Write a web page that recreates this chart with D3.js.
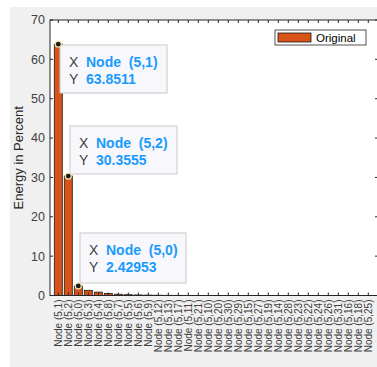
<!DOCTYPE html>
<html>
<head>
<meta charset="utf-8">
<script src="https://cdn.jsdelivr.net/npm/d3@7"></script>
<style>
  html, body { margin: 0; padding: 0; background: #fff; }
  svg { display: block; font-family: "Liberation Sans", Arial, sans-serif; }
</style>
</head>
<body>
<div id="chart"></div>
<script>
// bar categories, already sorted by energy
const nodes = [1, 2, 0, 3, 4, 8, 7, 5, 6, 9, 12, 13, 17, 11, 21, 10, 20, 30, 29, 15, 27, 19,
  14, 28, 23, 22, 24, 26, 31, 16, 18, 25]
const categories = nodes.map(n => "Node (5," + n + ")")
const energy = [63.8511, 30.3555, 2.42953, 1.32, 0.86, 0.5, 0.32, 0.2, 0.14, 0.1, 0.07, 0.05,
  0.04, 0.03, 0.03, 0.02, 0.02, 0.015, 0.012, 0.01, 0.008, 0.007, 0.006, 0.005, 0.004, 0.004,
  0.003, 0.003, 0.002, 0.002, 0.001, 0.001]
const yTicks = [0, 10, 20, 30, 40, 50, 60, 70]
// datatips: index of bar + text
const tips = [
  {i: 0, label: "Node  (5,1)", value: "63.8511"},
  {i: 1, label: "Node  (5,2)", value: "30.3555"},
  {i: 2, label: "Node  (5,0)", value: "2.42953"}
]

const width = 377, height = 367
const plot = {left: 50, right: 378, top: 20, bottom: 295.5}
const svg = d3.select("#chart").append("svg").attr("width", width).attr("height", height)

// figure background
svg.append("rect").attr("x", 10).attr("y", 7).attr("width", width - 10).attr("height", height - 7)
  .attr("fill", "#f0f0f0")
svg.append("rect").attr("x", plot.left).attr("y", plot.top)
  .attr("width", plot.right - plot.left).attr("height", plot.bottom - plot.top).attr("fill", "#fff")

const x = d3.scalePoint().domain(categories).range([58.3, 368.3])
const y = d3.scaleLinear().domain([0, 70]).range([plot.bottom, plot.top])
const step = x.step()
const barW = step * 0.8

// bars
svg.append("g").selectAll("rect")
  .data(energy)
  .join("rect")
  .attr("x", (d, i) => x(categories[i]) - barW / 2)
  .attr("y", d => y(d))
  .attr("width", barW)
  .attr("height", d => plot.bottom - y(d))
  .attr("fill", "#D95319")
  .attr("stroke", "#1a1a1a")
  .attr("stroke-width", 0.8)

// axes box with inward ticks
const axisColor = "#262626"
const tickLen = 3
const ax = svg.append("g").attr("stroke", axisColor).attr("stroke-width", 1)
categories.forEach(c => {
  ax.append("line").attr("x1", x(c)).attr("x2", x(c)).attr("y1", plot.bottom).attr("y2", plot.bottom - tickLen)
  ax.append("line").attr("x1", x(c)).attr("x2", x(c)).attr("y1", plot.top).attr("y2", plot.top + tickLen)
})
yTicks.forEach(t => {
  ax.append("line").attr("x1", plot.left).attr("x2", plot.left + tickLen).attr("y1", y(t)).attr("y2", y(t))
  ax.append("line").attr("x1", plot.right).attr("x2", plot.right - tickLen).attr("y1", y(t)).attr("y2", y(t))
})
ax.append("rect").attr("x", plot.left).attr("y", plot.top)
  .attr("width", plot.right - plot.left).attr("height", plot.bottom - plot.top).attr("fill", "none")

// y tick labels
svg.append("g").selectAll("text")
  .data(yTicks)
  .join("text")
  .attr("x", plot.left - 5)
  .attr("y", d => y(d))
  .attr("dy", "0.35em")
  .attr("text-anchor", "end")
  .attr("font-size", 12.5)
  .attr("fill", "#404040")
  .text(d => d)

svg.append("text")
  .attr("transform", "translate(23," + ((plot.top + plot.bottom) / 2) + ") rotate(-90)")
  .attr("text-anchor", "middle")
  .attr("font-size", 13)
  .attr("fill", axisColor)
  .text("Energy in Percent")

// x tick labels, rotated
svg.append("g").selectAll("text")
  .data(categories)
  .join("text")
  .attr("transform", d => "translate(" + (x(d) + 3.5) + "," + (plot.bottom + 4) + ") rotate(-90)")
  .attr("text-anchor", "end")
  .attr("font-size", 10)
  .attr("fill", "#404040")
  .text(d => d)

// legend
const lg = svg.append("g").attr("transform", "translate(275,30)")
lg.append("rect").attr("width", 91).attr("height", 15).attr("fill", "#fff").attr("stroke", "#262626").attr("stroke-width", 0.8)
lg.append("rect").attr("x", 3).attr("y", 3).attr("width", 33).attr("height", 9)
  .attr("fill", "#D95319").attr("stroke", "#1a1a1a").attr("stroke-width", 0.8)
lg.append("text").attr("x", 41).attr("y", 11.5).attr("font-size", 11.5).attr("fill", "#000").text("Original")

// datatips
const boxes = [
  {x: 60, y: 45, w: 107, h: 48},
  {x: 70, y: 126, w: 107, h: 48},
  {x: 80, y: 233, w: 106, h: 50}
]
tips.forEach((t, k) => {
  const b = boxes[k]
  const g = svg.append("g")
  g.append("rect").attr("x", b.x).attr("y", b.y).attr("width", b.w).attr("height", b.h)
    .attr("fill", "#f8f8fc").attr("stroke", "#c8c8c8").attr("stroke-width", 1)
  g.append("text").attr("x", b.x + 9).attr("y", b.y + 22).attr("font-size", 14).attr("fill", "#404040").text("X")
  g.append("text").attr("x", b.x + 9).attr("y", b.y + 39).attr("font-size", 14).attr("fill", "#404040").text("Y")
  g.append("text").attr("x", b.x + 26).attr("y", b.y + 22).attr("font-size", 14).attr("font-weight", "bold")
    .attr("fill", "#1a9bfc").style("white-space", "pre").text(t.label)
  g.append("text").attr("x", b.x + 26).attr("y", b.y + 39).attr("font-size", 14).attr("font-weight", "bold")
    .attr("fill", "#1a9bfc").text(t.value)
  svg.append("circle")
    .attr("cx", x(categories[t.i]))
    .attr("cy", y(energy[t.i]))
    .attr("r", 3)
    .attr("fill", "#1a1a1a")
    .attr("stroke", "#f2e6b0")
    .attr("stroke-width", 1.2)
})
</script>
</body>
</html>
